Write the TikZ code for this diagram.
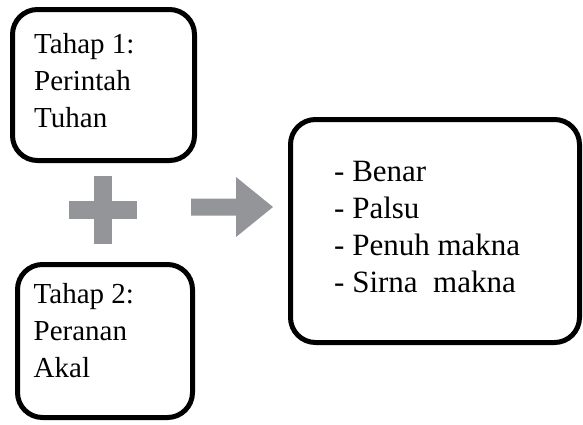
\documentclass[tikz,border=0pt]{standalone}
\usepackage{fontspec}
\setmainfont{Liberation Serif}
\usetikzlibrary{positioning}
\definecolor{signgray}{RGB}{147,149,152}
\tikzset{
	stepbox/.style={
		draw=black,
		line width=5pt,
		rounded corners=25pt
	},
	steptext/.style={
		align=left,
		inner sep=0pt,
		font=\fontsize{29}{37}\selectfont
	},
	resulttext/.style={
		align=left,
		inner sep=0pt,
		font=\fontsize{31}{37}\selectfont
	}
}

\begin{document}
\begin{tikzpicture}[x=1pt,y=-1pt]
	\useasboundingbox (0,0) rectangle (583,424);
	% boxes
	\node[stepbox, minimum width=182pt, minimum height=151pt] (tahap1) at (103.5,85) {};
	\node[stepbox, minimum width=175pt, minimum height=153pt] (tahap2) at (105,341) {};
	\node[stepbox, minimum width=289pt, minimum height=223pt] (hasil) at (435,231) {};
	% texts
	\node[steptext, below right=26pt and 24pt of tahap1.north west] (tahap1text) {Tahap 1:\\Perintah\\Tuhan};
	\node[steptext, below right=21pt and 18.5pt of tahap2.north west] (tahap2text) {Tahap 2:\\Peranan\\Akal};
	\node[resulttext, below right=44pt and 46pt of hasil.north west] (hasiltext) {- Benar\\- Palsu\\- Penuh makna\\- Sirna\ \ makna};
	% plus and arrow
	\fill[signgray] (69,201) rectangle (137,219);
	\fill[signgray] (94,176) rectangle (112,244);
	\fill[signgray] (191,198.5) -- (236,198.5) -- (236,177) -- (273,207) -- (236,237) -- (236,215.5) -- (191,215.5) -- cycle;
\end{tikzpicture}
\end{document}
